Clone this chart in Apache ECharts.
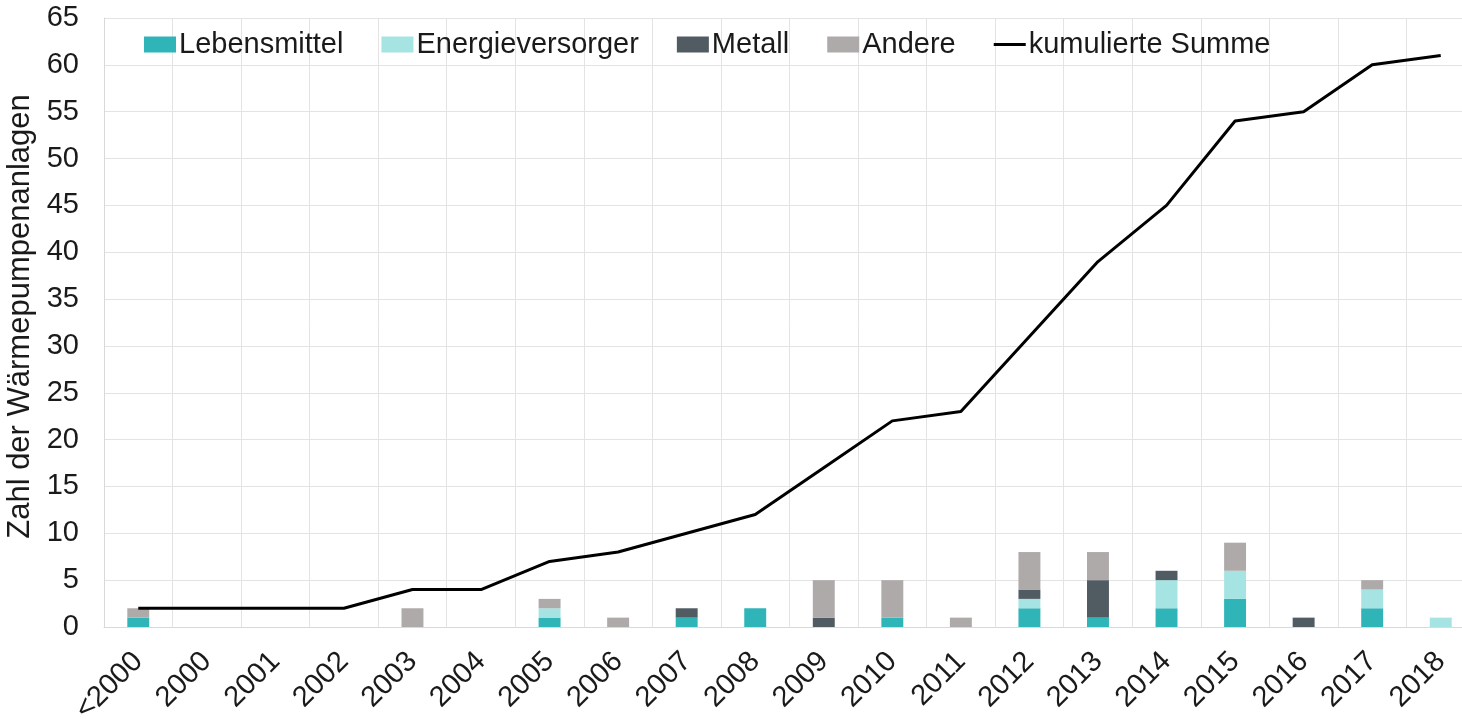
<!DOCTYPE html>
<html>
<head>
<meta charset="utf-8">
<script src="https://cdn.jsdelivr.net/npm/echarts@6/dist/echarts.min.js"></script>
<style>
html,body{margin:0;padding:0;background:#fff;overflow:hidden;width:1462px;height:722px;}
#wrap{width:1462px;height:722px;overflow:hidden;position:relative;}
#chart{width:1480px;height:722px;position:absolute;left:0;top:0;}
</style>
</head>
<body>
<div id="wrap"><div id="chart"></div></div>
<script>
var categories = ['<2000','2000','2001','2002','2003','2004','2005','2006','2007','2008','2009','2010','2011','2012','2013','2014','2015','2016','2017','2018'];
var lebensmittel     = [1,0,0,0,0,0,1,0,1,2,0,1,0,2,1,2,3,0,2,0];
var energieversorger = [0,0,0,0,0,0,1,0,0,0,0,0,0,1,0,3,3,0,2,1];
var metall           = [0,0,0,0,0,0,0,0,1,0,1,0,0,1,4,1,0,1,0,0];
var andere           = [1,0,0,0,2,0,1,1,0,0,4,4,1,4,3,0,3,0,1,0];
var kumuliert        = [2,2,2,2,4,4,7,8,10,12,17,22,23,31,39,45,54,55,60,61];
var yTicks = {min:0, max:65, interval:5};

var FONT = '"Liberation Sans", Arial, sans-serif';
var TXT = '#1a1a1a';
var chart = echarts.init(document.getElementById('chart'), null, {renderer:'canvas', width:1480, height:722});

function barSeries(name, data, color){
  return {
    name: name, type: 'bar', stack: 'total', data: data,
    barWidth: '32%',
    itemStyle: {color: color},
    emphasis: {disabled: true}
  };
}

chart.setOption({
  animation: false,
  textStyle: {fontFamily: FONT},
  grid: {left: 104, top: 18, width: 1371, height: 609, containLabel: false, outerBoundsMode: 'none'},
  legend: {
    left: 139, top: 25,
    itemWidth: 32, itemHeight: 16, itemGap: 38,
    textStyle: {fontFamily: FONT, fontSize: 29, color: TXT, padding: [0,0,0,-2]},
    data: [
      {name:'Lebensmittel', icon:'rect'},
      {name:'Energieversorger', icon:'rect'},
      {name:'Metall', icon:'rect'},
      {name:'Andere', icon:'rect'},
      {name:'kumulierte Summe', icon:'path://M0,0 M32,16 M0,6.5 L32,6.5 L32,9.5 L0,9.5 Z', itemStyle:{color:'#000'}}
    ]
  },
  xAxis: {
    type: 'category', data: categories, boundaryGap: true,
    axisLine: {show: true, lineStyle: {color: '#d9d9d9', width: 1}},
    axisTick: {show: false},
    splitLine: {show: true, interval: 0, lineStyle: {color: '#e3e3e3', width: 1}},
    axisLabel: {interval: 0, rotate: 45, margin: 30, fontSize: 29, color: TXT, fontFamily: FONT}
  },
  yAxis: {
    type: 'value', min: yTicks.min, max: yTicks.max, interval: yTicks.interval,
    name: 'Zahl der Wärmepumpenanlagen', nameLocation: 'middle', nameGap: 52,
    nameTextStyle: {fontSize: 31, color: TXT, fontFamily: FONT, padding: [0, 0, 0, 12]},
    axisLine: {show: true, lineStyle: {color: '#d9d9d9', width: 1}},
    axisTick: {show: false},
    splitLine: {show: true, lineStyle: {color: '#e3e3e3', width: 1}},
    axisLabel: {margin: 25, fontSize: 29, color: TXT, fontFamily: FONT}
  },
  series: [
    barSeries('Lebensmittel', lebensmittel, '#2fb4b7'),
    barSeries('Energieversorger', energieversorger, '#a6e3e3'),
    barSeries('Metall', metall, '#515c62'),
    barSeries('Andere', andere, '#aeaaa9'),
    {
      name: 'kumulierte Summe', type: 'line', data: kumuliert,
      symbol: 'none', showSymbol: false,
      lineStyle: {color: '#000', width: 3},
      itemStyle: {color: '#000'},
      emphasis: {disabled: true}, z: 5
    }
  ]
});
</script>
</body>
</html>
